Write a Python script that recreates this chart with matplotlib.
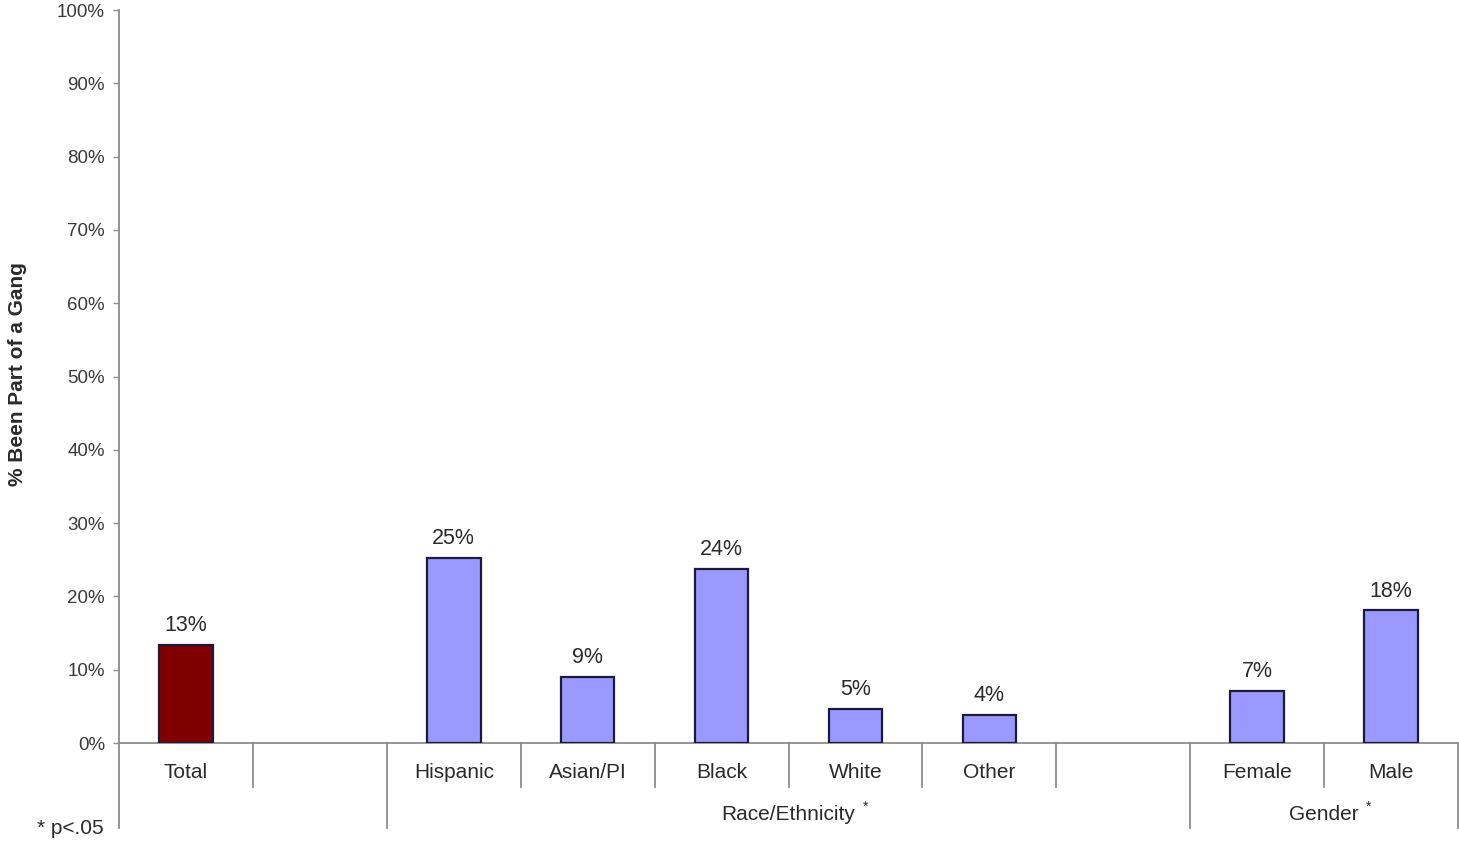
import matplotlib
matplotlib.use("Agg")
import matplotlib.pyplot as plt

plt.rcParams['font.family'] = ['Liberation Sans', 'DejaVu Sans']

# dados (% que ja fez parte de gangue)
categorias = ["Total", "", "Hispanic", "Asian/PI", "Black", "White", "Other", "", "Female", "Male"]
valores = [13.4, None, 25.2, 9.0, 23.8, 4.7, 3.8, None, 7.1, 18.1]
rotulos = ["13%", "", "25%", "9%", "24%", "5%", "4%", "", "7%", "18%"]
grupos = [("Race/Ethnicity", 2, 8), ("Gender", 8, 10)]
yticks = list(range(0, 101, 10))

W, H = 1459, 843
fig = plt.figure(figsize=(W / 100, H / 100), dpi=100)
ax = fig.add_axes([119 / W, 1 - 743 / H, (1458 - 119) / W, (743 - 10) / H])

eixo = "#8c8c8c"
txt = "#2a2a2a"

for i, (v, r) in enumerate(zip(valores, rotulos)):
    if v is None:
        continue
    cor = "#800000" if i == 0 else "#9999ff"
    ax.bar(i + 0.5, v, width=0.40, color=cor, edgecolor="#1a1a3a", linewidth=1.6, zorder=3)
    ax.text(i + 0.5, v + 1.2, r, ha="center", va="bottom", fontsize=15.5, color=txt)

ax.set_xlim(0, 10)
ax.set_ylim(0, 100)
ax.set_yticks(yticks)
ax.set_yticklabels([f"{t}%" for t in yticks], fontsize=13.5, color="#3a3a3a")
ax.tick_params(axis="y", length=4, color=eixo, width=1, pad=6)
ax.set_xticks([])
for s in ["top", "right"]:
    ax.spines[s].set_visible(False)
for s in ["left", "bottom"]:
    ax.spines[s].set_color(eixo)
    ax.spines[s].set_linewidth(1.3)

fig.text(18 / W, 1 - 374 / H, "% Been Part of a Gang", rotation=90, ha="center", va="center",
         fontsize=15, fontweight="bold", color=txt)

# separadores e rotulos das categorias abaixo do eixo
tr = ax.get_xaxis_transform()
curto = -44 / 733
longo = -85 / 733
for x in range(0, 11):
    y0 = longo if x in (0, 2, 8, 10) else curto
    ax.plot([x, x], [0, y0], color=eixo, lw=1.3, transform=tr, clip_on=False)
for i, c in enumerate(categorias):
    if c:
        ax.text(i + 0.5, -30 / 733, c, ha="center", va="center", fontsize=15, color=txt, transform=tr)
for nome, a, b in grupos:
    t = ax.text((a + b) / 2, -71 / 733, nome, ha="center", va="center", fontsize=15, color=txt, transform=tr)
    fig.canvas.draw()
    bb = t.get_window_extent()
    fig.text((bb.x1 + 10) / W, (bb.y1 - 2) / H, "*", ha="center", va="center", fontsize=10, color=txt)

fig.text(37 / W, 1 - 829 / H, "* p<.05", ha="left", va="center", fontsize=15, color=txt)

fig.savefig("out.png", dpi=100)
